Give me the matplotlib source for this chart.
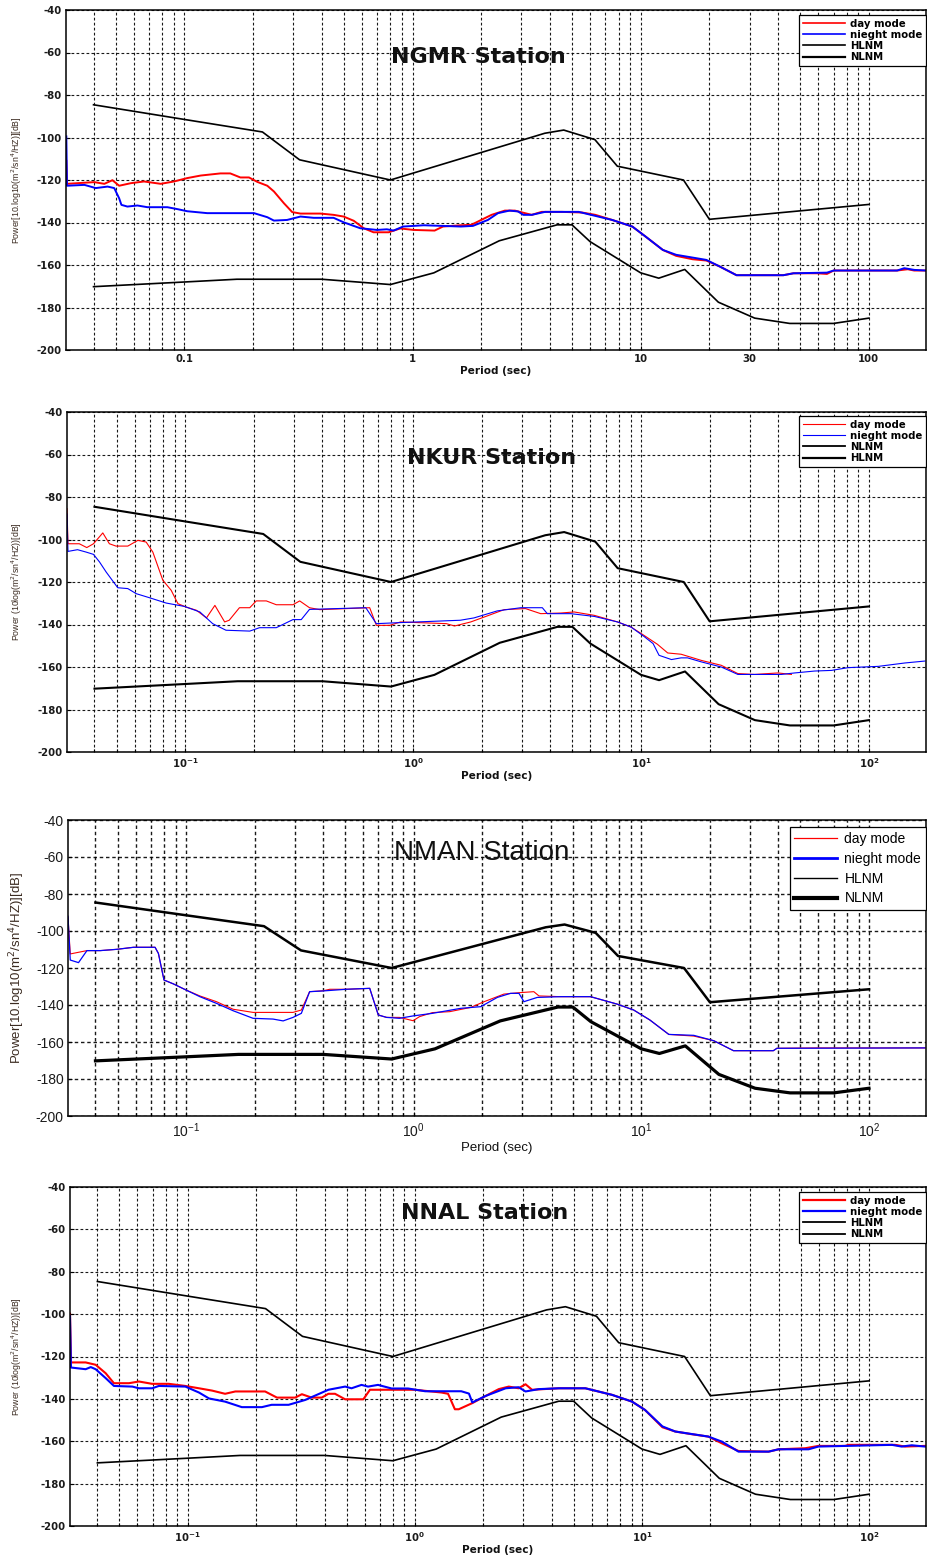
import numpy as np
import matplotlib
matplotlib.use('Agg')
import matplotlib.pyplot as plt
from matplotlib.ticker import LogLocator, NullFormatter

plt.rcParams['font.family'] = ['Liberation Sans', 'DejaVu Sans']

# ---------------- Peterson noise models (breakpoints) ----------------
NHNM_PERIOD = [0.04, 0.1, 0.22, 0.32, 0.8, 3.8, 4.6, 6.3, 7.9, 15.4, 20, 100]
NHNM_DB = [-84.6, -91.5, -97.4, -110.5, -120.0, -98.0, -96.5, -101.0, -113.5, -120.0, -138.5, -131.5]
NLNM_PERIOD = [0.04, 0.1, 0.17, 0.4, 0.8, 1.24, 2.4, 4.3, 5.0, 6.0, 10, 12, 15.6, 21.9, 31.6, 45, 70, 100]
NLNM_DB = [-170.2, -168.0, -166.7, -166.7, -169.2, -163.7, -148.6, -141.1, -141.1, -149.0,
           -163.7, -166.2, -162.1, -177.5, -185.0, -187.5, -187.5, -185.0]

# ---------------- NGMR ----------------
NGMR_DAY_PERIOD = [0.0304, 0.0306, 0.0403, 0.0446, 0.0484, 0.0518, 0.0583, 0.0666, 0.0788, 0.0901,
                   0.103, 0.118, 0.144, 0.159, 0.176, 0.192, 0.209, 0.231, 0.247, 0.273,
                   0.297, 0.323, 0.395, 0.451, 0.499, 0.553, 0.611, 0.675, 0.786, 0.883,
                   1.01, 1.25, 1.36, 1.63, 1.81, 2.0, 2.22, 2.54, 2.81, 3.11,
                   3.33, 3.68, 4.51, 5.53, 6.33, 7.5, 9.19, 10.5, 12.5, 14.3,
                   16.9, 19.4, 22.2, 26.3, 42.2, 46.7, 59.2, 65.5, 70.1, 133,
                   148, 158, 178]
NGMR_DAY_DB = [-111.0, -121.8, -121.0, -121.8, -120.1, -122.7, -121.5, -120.7, -121.8, -120.7,
               -119.1, -117.9, -116.9, -116.9, -118.8, -118.8, -120.9, -122.7, -125.4, -130.9,
               -135.1, -135.8, -135.8, -136.4, -137.2, -139.2, -142.7, -144.6, -144.6, -142.8,
               -143.5, -143.8, -141.9, -141.3, -141.1, -138.8, -136.4, -134.4, -134.4, -135.6,
               -136.4, -135.0, -135.0, -135.3, -136.4, -138.8, -141.9, -146.6, -152.9, -155.7,
               -157.3, -157.9, -160.7, -164.8, -164.8, -163.9, -163.9, -164.2, -162.6, -162.6,
               -162.0, -162.6, -162.6]
NGMR_NIGHT_PERIOD = [0.0304, 0.0306, 0.0365, 0.0409, 0.0461, 0.0493, 0.0518, 0.053, 0.0563, 0.0623,
                     0.0689, 0.0843, 0.0932, 0.103, 0.126, 0.202, 0.231, 0.247, 0.282, 0.323,
                     0.369, 0.451, 0.499, 0.59, 0.699, 0.772, 0.826, 0.91, 1.12, 1.63,
                     1.84, 2.14, 2.37, 2.66, 2.9, 3.06, 3.33, 3.81, 5.35, 7.5,
                     9.19, 10.5, 12.5, 14.3, 19.4, 22.2, 26.3, 42.2, 46.7, 65.5,
                     70.1, 133, 143, 158, 178]
NGMR_NIGHT_DB = [-99.5, -122.7, -122.3, -123.8, -123.1, -123.8, -128.6, -131.7, -132.5, -132.0,
                 -132.8, -132.8, -133.7, -134.7, -135.6, -135.6, -137.5, -139.1, -138.8, -137.2,
                 -137.8, -137.8, -139.9, -142.7, -143.5, -143.2, -143.8, -141.9, -141.3, -141.9,
                 -141.6, -138.8, -135.6, -134.4, -134.8, -136.4, -136.4, -135.0, -135.0, -138.8,
                 -141.9, -146.6, -152.9, -155.2, -157.6, -160.7, -164.8, -164.8, -163.9, -163.6,
                 -162.6, -162.6, -161.5, -162.3, -162.6]

# ---------------- NKUR ----------------
NKUR_DAY_PERIOD = [0.0303, 0.0306, 0.0343, 0.037, 0.0396, 0.0435, 0.0465, 0.0497, 0.056, 0.062,
                   0.0674, 0.0721, 0.0798, 0.0868, 0.0929, 0.101, 0.112, 0.124, 0.135, 0.149,
                   0.156, 0.173, 0.192, 0.205, 0.227, 0.251, 0.297, 0.318, 0.351, 0.389,
                   0.645, 0.69, 0.79, 0.88, 1.40, 1.52, 1.79, 2.05, 2.51, 3.11,
                   3.63, 4.45, 5.09, 6.24, 7.89, 9.04, 10.3, 11.8, 13.1, 15.0,
                   18.4, 22.5, 26.6, 31.5, 39.9, 45.7]
NKUR_DAY_DB = [-85.5, -102.0, -102.0, -103.8, -102.0, -96.9, -102.0, -103.1, -103.1, -100.4,
               -101.2, -105.9, -119.2, -123.9, -130.2, -131.8, -133.3, -136.9, -131.0, -138.8,
               -138.0, -132.1, -132.1, -128.9, -128.9, -130.7, -130.7, -128.9, -132.1, -133.0,
               -132.1, -140.4, -140.4, -138.8, -139.6, -140.7, -138.8, -136.5, -133.0, -132.5,
               -134.9, -134.6, -134.1, -135.7, -138.8, -141.2, -145.1, -149.3, -153.4, -154.0,
               -156.9, -159.2, -163.1, -163.5, -162.8, -163.5]
NKUR_NIGHT_PERIOD = [0.0303, 0.0306, 0.0337, 0.0367, 0.0396, 0.0421, 0.045, 0.0506, 0.056, 0.061,
                     0.0697, 0.0825, 0.0993, 0.116, 0.132, 0.151, 0.192, 0.212, 0.251, 0.297,
                     0.323, 0.351, 0.62, 0.69, 0.88, 1.61, 1.85, 2.34, 2.97, 3.69,
                     3.88, 4.92, 6.24, 7.89, 9.04, 10.3, 11.3, 12.0, 13.6, 15.0,
                     16.0, 18.4, 22.5, 26.6, 41.3, 47.2, 57.8, 68.5, 81.1, 110,
                     144, 176]
NKUR_NIGHT_DB = [-88.0, -105.6, -104.8, -105.9, -107.0, -110.6, -115.3, -122.7, -123.1, -125.5,
                 -127.4, -129.9, -131.5, -134.1, -139.6, -142.7, -143.1, -141.5, -141.5, -137.7,
                 -137.7, -132.9, -132.1, -139.6, -139.1, -138.0, -136.9, -133.6, -132.1, -132.1,
                 -134.9, -134.9, -136.2, -138.8, -141.2, -145.6, -149.0, -154.5, -156.5, -155.7,
                 -155.7, -157.6, -160.0, -163.5, -163.5, -162.8, -161.9, -161.6, -160.3, -159.7,
                 -158.1, -157.2]

# ---------------- NMAN ----------------
NMAN_DAY_PERIOD = [0.0303, 0.031, 0.0367, 0.042, 0.0497, 0.0588, 0.0731, 0.0756, 0.080, 0.088,
                   0.100, 0.115, 0.136, 0.161, 0.197, 0.295, 0.321, 0.349, 0.400, 0.428,
                   0.505, 0.641, 0.699, 0.76, 0.866, 0.994, 1.06, 1.21, 1.44, 1.78,
                   2.04, 2.49, 2.94, 3.37, 3.55, 4.42, 5.98, 7.82, 9.25, 10.9,
                   13.2, 17.0, 20.8, 25.4, 38.0, 39.4, 58.9, 176]
NMAN_DAY_DB = [-92.6, -112.4, -110.6, -110.6, -109.9, -108.8, -108.8, -112.1, -126.5, -128.6,
               -131.9, -135.1, -138.2, -142.3, -144.0, -144.0, -142.7, -132.8, -132.3, -131.5,
               -131.5, -131.0, -145.4, -146.7, -146.7, -148.5, -146.3, -144.1, -143.6, -141.3,
               -138.2, -134.1, -133.3, -132.8, -135.1, -135.5, -135.5, -139.5, -142.7, -148.1,
               -155.9, -156.8, -159.3, -164.7, -164.7, -163.4, -163.2, -163.2]
NMAN_NIGHT_PERIOD = [0.0303, 0.031, 0.0337, 0.0367, 0.042, 0.0497, 0.0588, 0.0731, 0.0756, 0.080,
                     0.088, 0.100, 0.115, 0.136, 0.161, 0.197, 0.241, 0.267, 0.295, 0.321,
                     0.349, 0.400, 0.505, 0.641, 0.699, 0.76, 0.866, 0.994, 1.21, 1.61,
                     1.97, 2.33, 2.66, 2.9, 3.05, 3.49, 4.42, 5.98, 7.82, 9.25,
                     10.9, 13.2, 17.0, 20.8, 25.4, 38.0, 39.4, 176]
NMAN_NIGHT_DB = [-92.0, -115.7, -117.1, -110.6, -110.6, -109.9, -108.8, -108.8, -112.1, -126.5,
                 -128.6, -131.9, -135.5, -139.1, -143.1, -147.2, -147.6, -148.6, -146.7, -144.5,
                 -132.8, -132.4, -131.5, -131.0, -145.4, -146.7, -147.2, -145.9, -144.5, -141.8,
                 -140.9, -135.9, -133.7, -133.7, -138.2, -135.9, -135.5, -135.5, -139.5, -142.7,
                 -148.1, -155.9, -156.4, -159.3, -164.7, -164.7, -163.4, -163.2]

# ---------------- NNAL ----------------
NNAL_DAY_PERIOD = [0.0303, 0.0306, 0.0355, 0.0393, 0.0435, 0.0473, 0.0551, 0.0609, 0.0697, 0.0825,
                   0.0976, 0.112, 0.128, 0.146, 0.162, 0.219, 0.247, 0.297, 0.318, 0.351,
                   0.389, 0.416, 0.445, 0.493, 0.593, 0.634, 1.0, 1.31, 1.40, 1.50,
                   1.56, 1.79, 2.05, 2.34, 2.59, 2.86, 3.07, 3.28, 4.30, 5.63,
                   7.38, 9.04, 10.3, 12.3, 14.0, 16.6, 19.6, 22.5, 26.6, 36.1,
                   39.9, 52.3, 59.8, 78.4, 81.1, 130, 144, 176]
NNAL_DAY_DB = [-99.8, -122.8, -122.8, -123.9, -127.9, -132.6, -132.6, -131.8, -132.9, -132.9,
               -133.9, -135.0, -136.1, -137.6, -136.5, -136.5, -139.4, -139.4, -137.8, -139.4,
               -139.4, -137.6, -137.6, -140.2, -140.2, -135.7, -135.7, -137.0, -137.6, -144.9,
               -144.9, -142.0, -138.6, -135.4, -134.2, -135.0, -133.1, -135.7, -135.0, -135.0,
               -138.1, -141.3, -145.2, -153.4, -155.4, -156.7, -157.8, -161.0, -164.6, -164.9,
               -163.8, -163.3, -162.2, -162.2, -161.7, -161.7, -162.5, -162.2]
NNAL_NIGHT_PERIOD = [0.0303, 0.0306, 0.0355, 0.0374, 0.0393, 0.0435, 0.0473, 0.057, 0.0609, 0.0697,
                     0.0746, 0.0976, 0.112, 0.124, 0.146, 0.173, 0.212, 0.234, 0.278, 0.329,
                     0.416, 0.493, 0.526, 0.582, 0.622, 0.688, 0.79, 0.933, 1.11, 1.60,
                     1.73, 1.79, 2.05, 2.51, 2.86, 3.07, 3.51, 4.30, 5.63, 7.38,
                     9.04, 10.3, 12.3, 14.0, 19.6, 22.5, 26.6, 36.1, 39.9, 54.1,
                     59.8, 126, 139, 154, 176]
NNAL_NIGHT_DB = [-101.0, -125.2, -126.0, -125.0, -126.0, -130.2, -133.9, -134.2, -135.0, -135.0,
                 -133.9, -134.2, -137.0, -139.8, -141.3, -143.9, -143.9, -142.8, -142.8, -140.5,
                 -135.7, -134.2, -135.0, -133.4, -134.2, -133.4, -135.1, -135.1, -136.4, -136.4,
                 -137.5, -141.7, -138.6, -135.0, -134.5, -136.5, -135.4, -135.0, -135.0, -138.1,
                 -141.3, -145.2, -153.0, -155.4, -157.8, -160.2, -164.9, -164.9, -163.8, -163.8,
                 -162.5, -161.7, -162.5, -161.9, -162.5]

Y_TICKS = [-200, -180, -160, -140, -120, -100, -80, -60, -40]
X_TICKS_NGMR = [0.1, 1, 10, 30, 100]
X_LABELS_NGMR = ['0.1', '1', '10', '30', '100']
X_TICKS_POW = [0.1, 1, 10, 100]
X_LABELS_POW = [r'$\mathregular{10^{-1}}$', r'$\mathregular{10^{0}}$',
                r'$\mathregular{10^{1}}$', r'$\mathregular{10^{2}}$']

YLABEL_A = 'Power[10.log10(m$^2$/sn$^4$/HZ)][dB]'
YLABEL_B = 'Power (10log(m$^2$/sn$^4$/HZ))[dB]'

W, H = 927, 1558
fig = plt.figure(figsize=(W / 100, H / 100), dpi=100)

WIDE = dict(family='DejaVu Sans', weight='bold')
PLAIN = dict(family='Liberation Sans', weight='normal')

panels = [
    dict(name='NGMR Station', px=(66, 10, 350), day=(NGMR_DAY_PERIOD, NGMR_DAY_DB),
         night=(NGMR_NIGHT_PERIOD, NGMR_NIGHT_DB), xt=(X_TICKS_NGMR, X_LABELS_NGMR),
         ylabel=YLABEL_A, order=['HLNM', 'NLNM'], lw_dn=(1.4, 1.4), lw_hn=(1.2, 1.2),
         leg_lw=(1.2, 1.2, 1.2, 1.6), ylab_x=24,
         title_pos=(0.479, 0.862), title_fs=16, tick_fs=7.3, lab_fs=6.3, xlab_fs=7.6,
         leg_fs=7.3, leg_anchor=(926, 15), leg_sp=0.12, grid_lw=0.8, font=WIDE,
         handlelen=4.2, xpad=3),
    dict(name='NKUR Station', px=(67, 412, 752), day=(NKUR_DAY_PERIOD, NKUR_DAY_DB),
         night=(NKUR_NIGHT_PERIOD, NKUR_NIGHT_DB), xt=(X_TICKS_POW, X_LABELS_POW),
         ylabel=YLABEL_B, order=['NLNM', 'HLNM'], lw_dn=(0.8, 0.8), lw_hn=(1.5, 1.5),
         leg_lw=(0.8, 0.8, 1.3, 1.6), ylab_x=24,
         title_pos=(0.494, 0.865), title_fs=16, tick_fs=7.3, lab_fs=6.3, xlab_fs=7.6,
         leg_fs=7.3, leg_anchor=(926, 416), leg_sp=0.12, grid_lw=0.8, font=WIDE,
         handlelen=4.2, xpad=3),
    dict(name='NMAN Station', px=(68, 820, 1116), day=(NMAN_DAY_PERIOD, NMAN_DAY_DB),
         night=(NMAN_NIGHT_PERIOD, NMAN_NIGHT_DB), xt=(X_TICKS_POW, X_LABELS_POW),
         ylabel=YLABEL_A, order=['HLNM', 'NLNM'], lw_dn=(0.8, 0.9), lw_hn=(1.8, 2.3),
         leg_lw=(0.9, 2.0, 1.0, 3.0), ylab_x=27,
         title_pos=(0.482, 0.889), title_fs=20, tick_fs=10, lab_fs=9.5, xlab_fs=9.5,
         leg_fs=10, leg_anchor=(926, 827), leg_sp=0.42, grid_lw=1.0, font=PLAIN,
         handlelen=3.1, xpad=4),
    dict(name='NNAL Station', px=(70, 1187, 1526), day=(NNAL_DAY_PERIOD, NNAL_DAY_DB),
         night=(NNAL_NIGHT_PERIOD, NNAL_NIGHT_DB), xt=(X_TICKS_POW, X_LABELS_POW),
         ylabel=YLABEL_B, order=['HLNM', 'NLNM'], lw_dn=(1.5, 1.5), lw_hn=(1.2, 1.2),
         leg_lw=(1.6, 1.6, 1.3, 1.3), ylab_x=24,
         title_pos=(0.484, 0.923), title_fs=16, tick_fs=7.3, lab_fs=6.3, xlab_fs=7.6,
         leg_fs=7.3, leg_anchor=(926, 1192), leg_sp=0.12, grid_lw=0.8, font=WIDE,
         handlelen=4.2, xpad=3),
]

for p in panels:
    left, top, bottom = p['px']
    f = p['font']
    ax = fig.add_axes([left / W, 1 - bottom / H, (W - 1 - left) / W, (bottom - top) / H])
    ax.set_xscale('log')
    ax.set_xlim(0.0303, 178)
    ax.set_ylim(-200, -40)

    l_day, = ax.plot(p['day'][0], p['day'][1], color='#ff0000', lw=p['lw_dn'][0], label='day mode')
    l_night, = ax.plot(p['night'][0], p['night'][1], color='#0000ff', lw=p['lw_dn'][1], label='nieght mode')
    curves = {}
    for key in p['order']:
        if key == 'HLNM':
            curves[key], = ax.plot(NHNM_PERIOD, NHNM_DB, color='black', lw=p['lw_hn'][0], label='HLNM')
        else:
            curves[key], = ax.plot(NLNM_PERIOD, NLNM_DB, color='black', lw=p['lw_hn'][1], label='NLNM')

    ax.set_xticks(p['xt'][0])
    ax.set_xticklabels(p['xt'][1], fontsize=p['tick_fs'], color='#1a1a1a', **f)
    ax.xaxis.set_minor_locator(LogLocator(base=10, subs=np.arange(2, 10), numticks=20))
    ax.xaxis.set_minor_formatter(NullFormatter())
    ax.set_yticks(Y_TICKS)
    ax.set_yticklabels([str(v) for v in Y_TICKS], fontsize=p['tick_fs'], color='#1a1a1a', **f)

    gl = dict(color='black', linestyle=(0, (2.5, 2)), linewidth=p['grid_lw'], alpha=0.9)
    ax.grid(True, which='major', axis='both', **gl)
    ax.grid(True, which='minor', axis='x', **gl)
    ax.set_axisbelow(True)

    ax.tick_params(axis='both', which='both', direction='in', length=3, width=0.8, pad=3)
    ax.tick_params(axis='x', which='both', pad=p['xpad'])
    ax.tick_params(axis='x', which='minor', length=2)
    for s in ax.spines.values():
        s.set_linewidth(1.1)
        s.set_color('black')

    ax.set_xlabel('Period (sec)', fontsize=p['xlab_fs'], labelpad=1, color='#111111', **f)
    ax.set_ylabel(p['ylabel'], fontsize=p['lab_fs'], color='#3a2a20')
    ax.yaxis.set_label_coords(-(left - p['ylab_x']) / (W - 1 - left), 0.5)

    ax.text(p['title_pos'][0], p['title_pos'][1], p['name'], transform=ax.transAxes,
            ha='center', va='center', fontsize=p['title_fs'], color='#111111', **f)

    handles = [l_day, l_night] + [curves[k] for k in p['order']]
    leg = ax.legend(handles=handles, loc='upper right',
                    bbox_to_anchor=(p['leg_anchor'][0] / W, 1 - p['leg_anchor'][1] / H),
                    bbox_transform=fig.transFigure,
                    prop=dict(size=p['leg_fs'], **f), frameon=True,
                    fancybox=False, framealpha=1, edgecolor='black', borderpad=0.35,
                    labelspacing=p['leg_sp'], handlelength=p['handlelen'], handletextpad=0.5,
                    borderaxespad=0)
    leg.get_frame().set_linewidth(0.9)
    for ln, lw in zip(leg.get_lines(), p['leg_lw']):
        ln.set_linewidth(lw)

fig.savefig('out.png', dpi=100)
